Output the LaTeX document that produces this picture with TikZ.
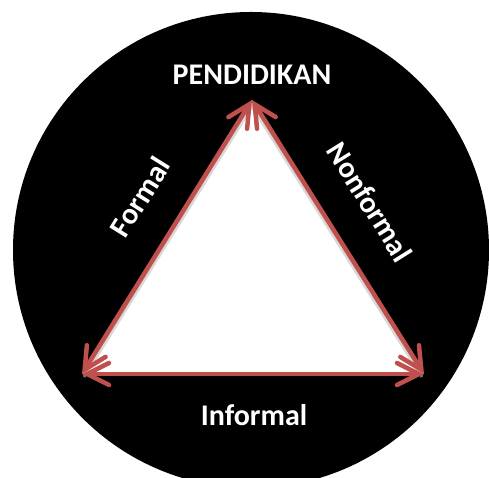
\documentclass[tikz,border=0pt]{standalone}
\usepackage{fontspec}
\setmainfont{Carlito}
\usetikzlibrary{arrows.meta}
\definecolor{edgered}{HTML}{C0504D}
\tikzset{
  edgeline/.style={draw=edgered, line width=4.5pt, line cap=round,
    {Straight Barb[length=22pt, width=22pt, line cap=round]}-{Straight Barb[length=22pt, width=22pt, line cap=round]}},
  shadowline/.style={draw=black!25, line width=3pt, opacity=0.6},
  lbl/.style={text=white, font=\bfseries\fontsize{30}{30}\selectfont, inner sep=0pt}
}
\begin{document}
\begin{tikzpicture}[x=1pt,y=1pt]
\useasboundingbox (0,0) rectangle (489,478);
\clip (0,0) rectangle (489,478);
\fill[white] (0,0) rectangle (489,478);
\fill[black] (251,228) circle[radius=238];
\coordinate (top) at (252,378);
\coordinate (bl) at (82,104);
\coordinate (br) at (424,104);
\fill[white] (top) -- (bl) -- (br) -- cycle;
\draw[shadowline] ([shift={(2,-3)}]top) -- ([shift={(2,-3)}]bl);
\draw[shadowline] ([shift={(-2,-3)}]top) -- ([shift={(-2,-3)}]br);
\path[edgeline] (bl) -- (top);
\path[edgeline] (top) -- (br);
\path[edgeline] (bl) -- (br);
\node[lbl] (pend) at (252,403) {PENDIDIKAN};
\node[lbl] (inf) at (254,63) {Informal};
\node[lbl, rotate=58] (form) at (140,281) {Formal};
\node[lbl, rotate=-58] (nonf) at (370,276) {Nonformal};
\end{tikzpicture}
\end{document}
